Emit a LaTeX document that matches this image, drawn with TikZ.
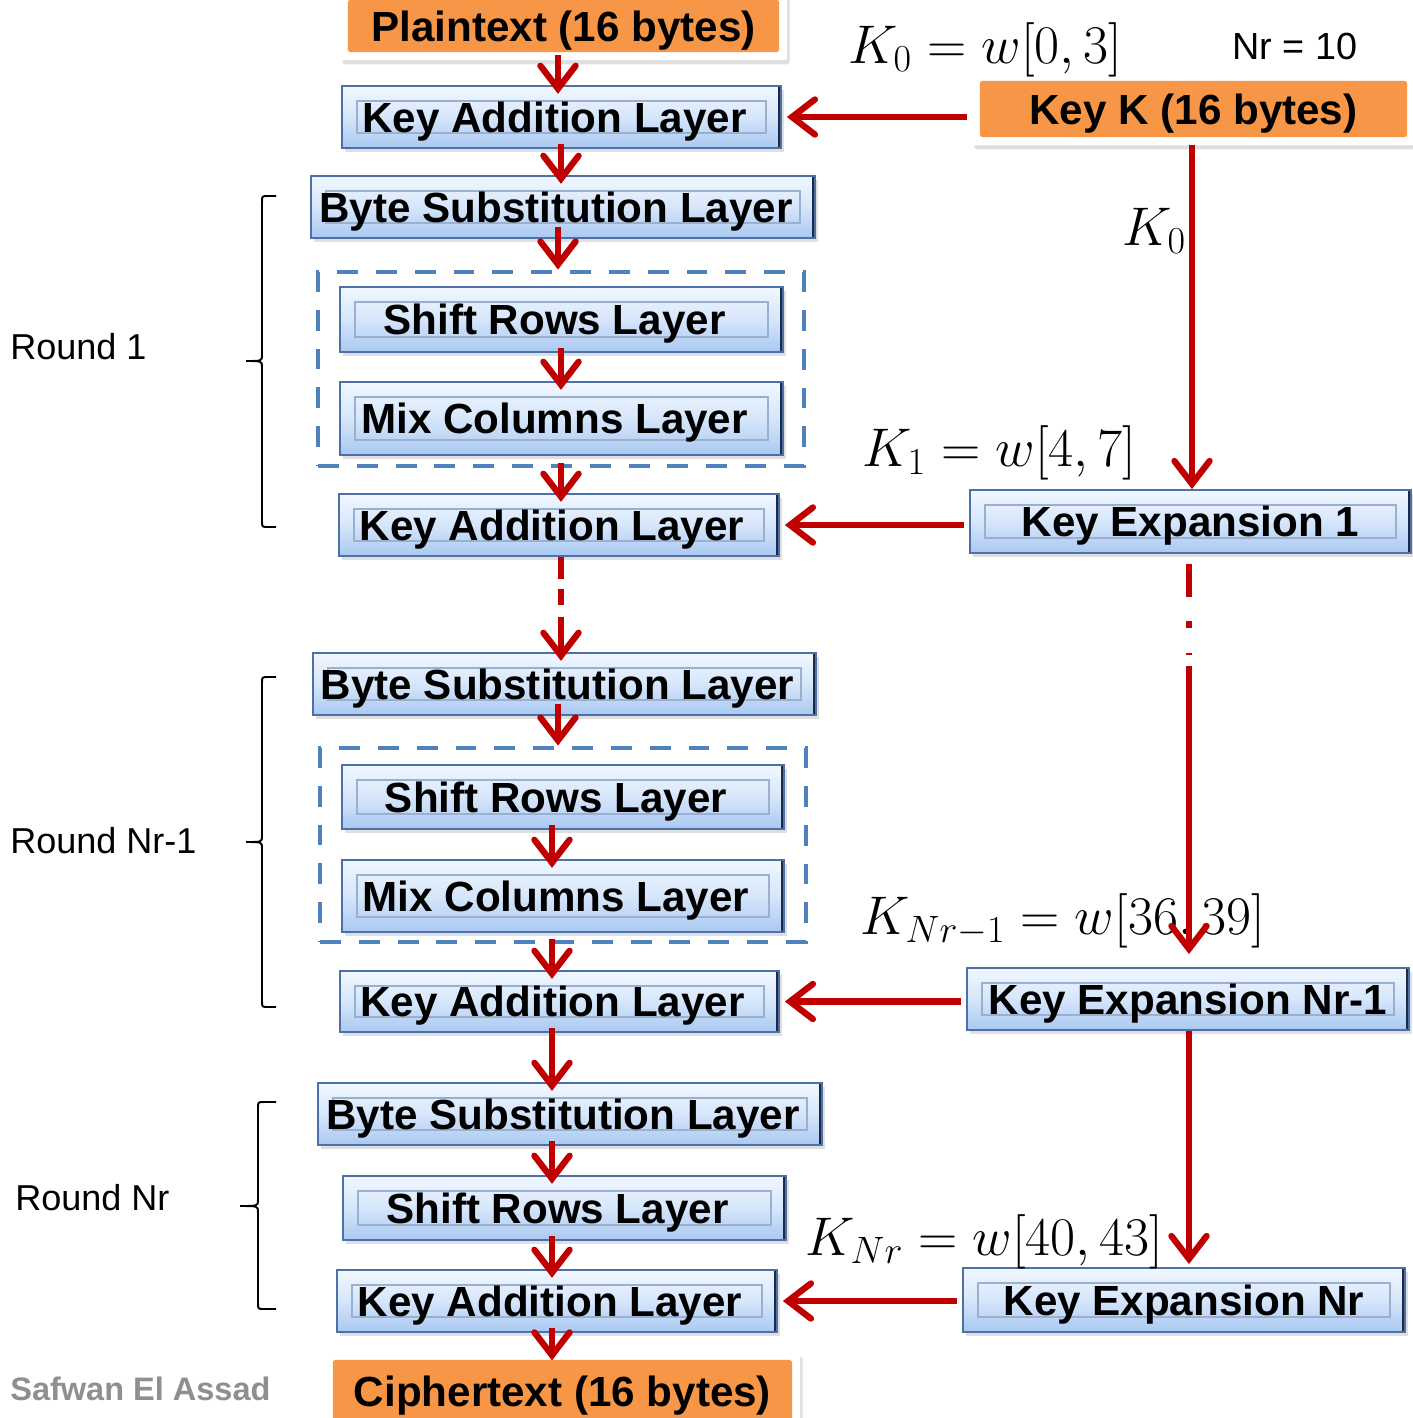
\RequirePackage{fix-cm}
\documentclass[tikz,border=0pt]{standalone}
\usepackage{fontspec}
\setmainfont{Liberation Sans}
\usetikzlibrary{arrows.meta,shadows}

\definecolor{kred}{HTML}{C00000}
\definecolor{korange}{HTML}{F79646}
\definecolor{gblue}{HTML}{4F81BD}
\definecolor{lborder}{HTML}{4D71A6}
\definecolor{ltop}{HTML}{F1F7FF}
\definecolor{lmid}{HTML}{D6E6FB}
\definecolor{lbot}{HTML}{A9C8F1}
\definecolor{lbevel}{HTML}{9AB0CF}
\definecolor{ledge}{HTML}{1C2B45}
\definecolor{wmark}{HTML}{8F8F8F}

% place a node by its corner coordinates (1 unit = 0.02cm, y downwards)
\newcommand\pxbox[7]{\node[#1, minimum width={(#5-#3)*0.02cm}, minimum height={(#6-#4)*0.02cm}] (#2) at ({(#3+#5)/2},{(#4+#6)/2}) {#7};}
% label text set a little left of the box centre
\newcommand\lefttext[1]{#1\hspace*{8pt}}

\tikzset{
  boxfont/.style={font=\fontsize{24}{28}\selectfont\bfseries, text height=17.2pt, text depth=0pt},
  layer/.style={boxfont, draw=lborder, line width=1.1pt, top color=ltop, bottom color=lbot, middle color=lmid,
    inner sep=0pt, drop shadow={shadow xshift=1.5pt, shadow yshift=-2.5pt, opacity=0.25},
    path picture={
      \draw[lbevel, line width=0.7pt]
        ([xshift=8.5pt,yshift=8.5pt]path picture bounding box.south west) rectangle
        ([xshift=-8.5pt,yshift=-8.5pt]path picture bounding box.north east);
      \draw[ledge, line width=3pt] (path picture bounding box.north east) -- (path picture bounding box.south east);
    }},
  databox/.style={boxfont, fill=white, rounded corners=1.5pt, inner sep=0pt,
    drop shadow={shadow xshift=1.5pt, shadow yshift=-2.5pt, opacity=0.25},
    path picture={
      \fill[korange]
        ([xshift=4.5pt,yshift=4.5pt]path picture bounding box.south west) rectangle
        ([xshift=-4.5pt,yshift=-4.5pt]path picture bounding box.north east);
    }},
  groupbox/.style={draw=gblue, line width=2.8pt, dash pattern=on 11.9pt off 10.2pt, inner sep=0pt},
  mathlab/.style={inner sep=0pt, anchor=base west, font=\fontsize{31}{34}\selectfont},
  roundlab/.style={inner sep=0pt, anchor=base west, font=\fontsize{20.5}{24}\selectfont},
  bracepath/.style={draw=black, line width=1.1pt},
  arr/.style={draw=kred, line width=3.6pt, -{Straight Barb[length=13pt,width=20pt,line cap=round]},
    shorten <=-3pt, shorten >=-5pt},
  harr/.style={arr, shorten <=2.8pt, shorten >=2.8pt},
}

\begin{document}
\begin{tikzpicture}[x=0.02cm, y=-0.02cm]
\useasboundingbox (0,0) rectangle (1413,1418);
\clip (0,0) rectangle (1413,1418);
\fill[white] (0,0) rectangle (1413,1418);

% vertical axes of the stems
\coordinate (stemA) at (558,0);
\coordinate (stemB) at (561,0);
\coordinate (stemC) at (552,0);
\coordinate (keyA) at (1192,0);
\coordinate (keyB) at (1189,0);

% round groups
\pxbox{groupbox}{g1}{318}{272}{804}{466}{}
\pxbox{groupbox}{g2}{320}{748}{806}{942}{}

% data blocks
\pxbox{databox}{pt}{340}{-8}{787}{60}{Plaintext (16 bytes)}
\pxbox{databox}{kk}{972}{73}{1415}{145}{Key K (16 bytes)}
\pxbox{databox}{ct}{325}{1352}{800}{1430}{Ciphertext (16 bytes)}

% cipher layers
\pxbox{layer}{ka1}{342}{86}{781}{148}{\lefttext{Key Addition Layer}}
\pxbox{layer}{bs1}{311}{176}{815}{238}{\lefttext{Byte Substitution Layer}}
\pxbox{layer}{sr1}{340}{287}{783}{352}{\lefttext{Shift Rows Layer}}
\pxbox{layer}{mc1}{340}{382}{783}{455}{\lefttext{Mix Columns Layer}}
\pxbox{layer}{ka2}{339}{494}{779}{556}{\lefttext{Key Addition Layer}}
\pxbox{layer}{bs2}{313}{653}{816}{715}{\lefttext{Byte Substitution Layer}}
\pxbox{layer}{sr2}{342}{765}{784}{829}{\lefttext{Shift Rows Layer}}
\pxbox{layer}{mc2}{342}{860}{784}{932}{\lefttext{Mix Columns Layer}}
\pxbox{layer}{ka3}{340}{971}{779}{1032}{\lefttext{Key Addition Layer}}
\pxbox{layer}{bs3}{318}{1083}{822}{1145}{\lefttext{Byte Substitution Layer}}
\pxbox{layer}{sr3}{343}{1176}{786}{1240}{\lefttext{Shift Rows Layer}}
\pxbox{layer}{ka4}{337}{1270}{777}{1332}{\lefttext{Key Addition Layer}}

% key schedule
\pxbox{layer}{ke1}{970}{490}{1411}{553}{Key Expansion 1}
\pxbox{layer}{ken1}{967}{968}{1409}{1030}{Key Expansion Nr-1}
\pxbox{layer}{ken}{963}{1268}{1405}{1332}{Key Expansion Nr}

% round keys
\node[mathlab] (lk0) at (848,63) {$K_0 = w[0,3]$};
\node[roundlab, font=\fontsize{21.5}{24}\selectfont] (nr) at (1232,59) {Nr = 10};
\node[mathlab] (lk0b) at (1122,245) {$K_0$};
\node[mathlab] (lk1) at (862,466) {$K_1 = w[4,7]$};
\node[mathlab] (lknm) at (860,934) {$K_{Nr-1} = w[36,39]$};
\node[mathlab] (lkn) at (805,1255) {$K_{Nr} = w[40,43]$};

% round labels and braces
\node[roundlab] (r1) at (10,359) {Round 1};
\node[roundlab] (r2) at (10,853) {Round Nr-1};
\node[roundlab] (r3) at (15,1210) {Round Nr};
\node[inner sep=0pt, anchor=base west, text=wmark, font=\fontsize{18.5}{20}\selectfont\bfseries] (sig) at (10,1400) {Safwan El Assad};

\draw[bracepath] (276,196) -- (268,196) .. controls (262,196) .. (262,202) -- (262,355)
  .. controls (262,361) .. (246,361) .. controls (262,361) .. (262,367) -- (262,521)
  .. controls (262,527) .. (268,527) -- (276,527);
\draw[bracepath] (276,677) -- (268,677) .. controls (262,677) .. (262,683) -- (262,836)
  .. controls (262,842) .. (246,842) .. controls (262,842) .. (262,848) -- (262,1001)
  .. controls (262,1007) .. (268,1007) -- (276,1007);
\draw[bracepath] (276,1102) -- (264,1102) .. controls (258,1102) .. (258,1108) -- (258,1200)
  .. controls (258,1206) .. (240,1206) .. controls (258,1206) .. (258,1212) -- (258,1303)
  .. controls (258,1309) .. (264,1309) -- (276,1309);

% data path
\draw[arr] (pt.south -| stemA) -- (ka1.north -| stemA);
\draw[arr] (ka1.south -| stemB) -- (bs1.north -| stemB);
\draw[arr, shorten <=-7pt, shorten >=0pt] (bs1.south -| stemA) -- (g1.north -| stemA);
\draw[arr] (sr1.south -| stemB) -- (mc1.north -| stemB);
\draw[arr] (g1.south -| stemB) -- (ka2.north -| stemB);
\draw[arr, shorten <=0pt, dash pattern=on 12.5pt off 5.7pt on 9pt off 6.8pt on 200pt] (ka2.south -| stemB) -- (bs2.north -| stemB);
\draw[arr, shorten <=-7pt, shorten >=0pt] (bs2.south -| stemA) -- (g2.north -| stemA);
\draw[arr] (sr2.south -| stemC) -- (mc2.north -| stemC);
\draw[arr] (g2.south -| stemC) -- (ka3.north -| stemC);
\draw[arr] (ka3.south -| stemC) -- (bs3.north -| stemC);
\draw[arr] (bs3.south -| stemC) -- (sr3.north -| stemC);
\draw[arr] (sr3.south -| stemC) -- (ka4.north -| stemC);
\draw[arr] (ka4.south -| stemC) -- (ct.north -| stemC);

% round keys into the cipher
\draw[harr] (kk.west |- ka1.east) -- (ka1.east);
\draw[harr] (ke1.west |- ka2.east) -- (ka2.east);
\draw[harr] (ken1.west |- ka3.east) -- (ka3.east);
\draw[harr] (ken.west |- ka4.east) -- (ka4.east);

% key schedule path
\draw[arr, shorten <=0pt, shorten >=0pt] (kk.south -| keyA) -- (ke1.north -| keyA);
\draw[arr, shorten <=0pt, shorten >=7.4pt,
  dash pattern=on 0pt off 5.7pt on 18.7pt off 13.6pt on 4pt off 14.2pt on 1.1pt off 6.2pt on 400pt]
  (ke1.south -| keyB) -- (ken1.north -| keyB);
\draw[arr, shorten <=0pt, shorten >=1.7pt] (ken1.south -| keyB) -- (ken.north -| keyB);
\end{tikzpicture}
\end{document}
